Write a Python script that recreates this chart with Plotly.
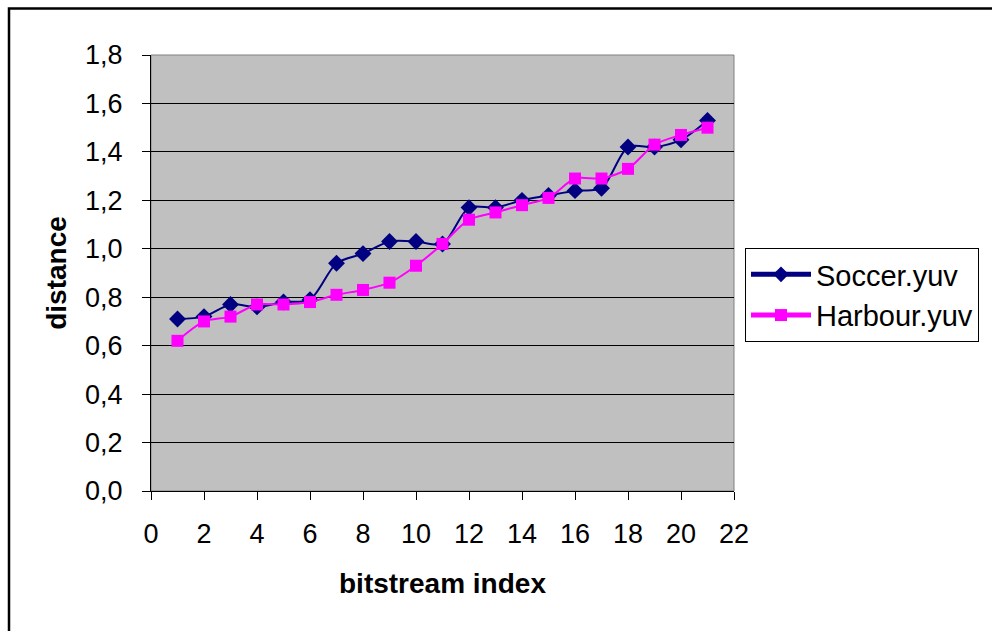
import plotly.graph_objects as go

bitstream_index = list(range(1, 22))
soccer = [0.71, 0.72, 0.77, 0.76, 0.78, 0.79, 0.94, 0.98, 1.03, 1.03, 1.02,
          1.17, 1.17, 1.20, 1.22, 1.24, 1.25, 1.42, 1.42, 1.45, 1.53]
harbour = [0.62, 0.70, 0.72, 0.77, 0.77, 0.78, 0.81, 0.83, 0.86, 0.93, 1.02,
           1.12, 1.15, 1.18, 1.21, 1.29, 1.29, 1.33, 1.43, 1.47, 1.50]
x_ticks = list(range(0, 23, 2))
y_ticks = [0.0, 0.2, 0.4, 0.6, 0.8, 1.0, 1.2, 1.4, 1.6, 1.8]

FONT = "Liberation Sans, Arial, sans-serif"

fig = go.Figure()
fig.add_trace(go.Scatter(
    x=bitstream_index, y=soccer, name="Soccer.yuv", mode="lines+markers",
    line=dict(color="#000080", width=2, shape="spline", smoothing=0.8),
    marker=dict(symbol="diamond", size=13, color="#000080"),
))
fig.add_trace(go.Scatter(
    x=bitstream_index, y=harbour, name="Harbour.yuv", mode="lines+markers",
    line=dict(color="#FF00FF", width=2, shape="spline", smoothing=0.8),
    marker=dict(symbol="square", size=12, color="#FF00FF"),
))

L, R, T, B = 151, 734, 55, 491
W, H = 992, 631
pw, ph = R - L, B - T

def px_x(v):
    return (v - L) / pw

def px_y(v):
    return (B - v) / ph

fig.update_layout(
    width=W, height=H,
    margin=dict(l=L, r=W - R, t=T, b=H - B, pad=0),
    paper_bgcolor="white",
    plot_bgcolor="#C0C0C0",
    separators=",.",
    font=dict(family=FONT, size=27, color="black"),
    showlegend=True,
    legend=dict(
        x=px_x(745), y=px_y(248), xanchor="left", yanchor="top",
        bordercolor="black", borderwidth=1, bgcolor="white",
        font=dict(family=FONT, size=29, color="black"),
        tracegroupgap=0, itemsizing="constant", itemwidth=60,
    ),
    xaxis=dict(
        range=[0, 22], tickvals=x_ticks, ticktext=[str(v) for v in x_ticks],
        showgrid=False, zeroline=False,
        showline=True, linecolor="black", linewidth=1,
        ticks="outside", ticklen=8, tickcolor="black", tickwidth=1,
        ticklabelstandoff=11,
        tickfont=dict(family=FONT, size=27, color="black"),
        title=dict(text="<b>bitstream index</b>", standoff=24,
                   font=dict(family=FONT, size=28, color="black")),
        automargin=False,
    ),
    yaxis=dict(
        range=[0, 1.8], tickvals=y_ticks, tickformat=".1f",
        showgrid=True, gridcolor="black", gridwidth=1, zeroline=False,
        showline=True, linecolor="black", linewidth=1,
        ticks="outside", ticklen=8, tickcolor="black", tickwidth=1,
        ticklabelstandoff=14,
        tickfont=dict(family=FONT, size=27, color="black"),
        title=dict(text="<b>distance</b>", standoff=10,
                   font=dict(family=FONT, size=28, color="black")),
        automargin=False,
    ),
    shapes=[
        dict(type="rect", xref="paper", yref="paper", x0=0, x1=1, y0=0, y1=1,
             line=dict(color="#808080", width=1), layer="below"),
        dict(type="rect", xref="paper", yref="paper",
             x0=px_x(9), x1=px_x(1010), y0=px_y(660), y1=px_y(8.5),
             line=dict(color="black", width=2.5), layer="above"),
    ],
)

fig.write_html("out.html")
